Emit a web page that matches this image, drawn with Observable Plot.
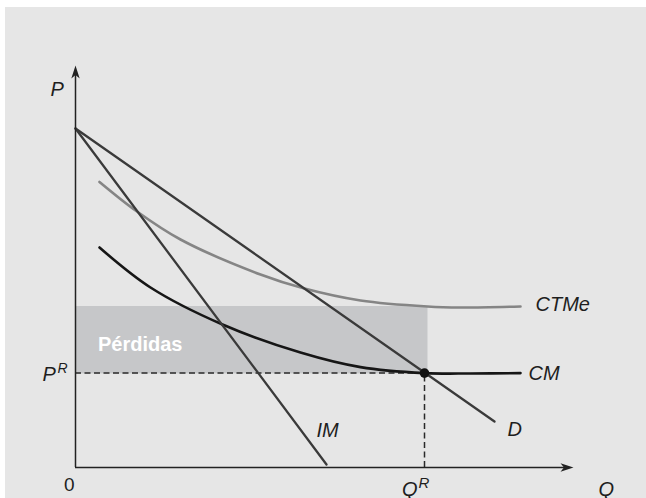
<!DOCTYPE html>
<html>
<head>
<meta charset="utf-8">
<script src="https://cdn.jsdelivr.net/npm/d3@7"></script>
<script src="https://cdn.jsdelivr.net/npm/@observablehq/plot@0.6"></script>
<style>
  html, body { margin: 0; padding: 0; background: #ffffff; }
  #chart { position: absolute; left: 5px; top: 7px; }
  #chart svg { display: block; background: #e6e6e6; }
</style>
</head>
<body>
<div id="chart"></div>
<script>
// ---- data (economic units: Q 0..100, P 0..100) ----
const demandQ = [0, 83.8];
const demandP = [84.75, 11.5];
const imQ = [0, 50.2];
const imP = [84.75, 0.75];
const cmQ = [4.8, 15, 29.4, 45, 57, 69.8, 79, 89];
const cmP = [55, 45, 35.75, 28.75, 25.1, 23.6, 23.5, 23.6];
const ctmeQ = [4.8, 12.3, 21, 37, 45.6, 57, 70.4, 77, 89];
const ctmeP = [71.4, 64, 57, 48.25, 44.8, 41.75, 40.25, 40, 40.25];
const QR = 69.8;
const PR = 23.6;
const lossQ = [0, 70.5];
const lossP = [23.4, 40.25];
const curveNames = ["D", "IM", "CM", "CTMe"];
const axisNames = ["P", "Q", "0"];
const lossLabel = "Pérdidas";
const eqLetters = ["P", "Q"];
const supLetter = "R";

const toPts = (qs, ps) => qs.map((q, i) => ({q, p: ps[i]}));
const D = toPts(demandQ, demandP);
const IM = toPts(imQ, imP);
const CM = toPts(cmQ, cmP);
const CTMe = toPts(ctmeQ, ctmeP);

const font = "'Liberation Sans', Arial, Helvetica, sans-serif";

// filled barbed arrowheads
const arrowUp = {draw(c) { c.moveTo(0, -2); c.lineTo(4.2, 11); c.lineTo(0, 7.5); c.lineTo(-4.2, 11); c.closePath(); }};
const arrowRight = {draw(c) { c.moveTo(2, 0); c.lineTo(-11, 4.2); c.lineTo(-7.5, 0); c.lineTo(-11, -4.2); c.closePath(); }};

const italic = {fontFamily: font, fontSize: 20, fontStyle: "italic", fill: "#1e1e1e", textAnchor: "start", lineAnchor: "bottom"};

const plot = Plot.plot({
  width: 641,
  height: 491,
  marginLeft: 70,
  marginRight: 71,
  marginTop: 60,
  marginBottom: 31,
  x: {domain: [0, 100], axis: null},
  y: {domain: [0, 100], axis: null},
  style: {fontFamily: font, background: "#e6e6e6", overflow: "visible"},
  marks: [
    // loss rectangle
    Plot.rect([{}], {x1: () => lossQ[0], x2: () => lossQ[1], y1: () => lossP[0], y2: () => lossP[1], fill: "#c6c7c9"}),
    // dashed guides
    Plot.ruleY([PR], {x1: 0, x2: QR, stroke: "#2a2a2a", strokeWidth: 1.5, strokeDasharray: "6,3.5"}),
    Plot.ruleX([QR], {y1: 0, y2: PR, stroke: "#2a2a2a", strokeWidth: 1.5, strokeDasharray: "6,3.5"}),
    // curves
    Plot.line(CTMe, {x: "q", y: "p", curve: "catmull-rom", stroke: "#858585", strokeWidth: 2.6}),
    Plot.line(CM, {x: "q", y: "p", curve: "catmull-rom", stroke: "#161616", strokeWidth: 2.6}),
    Plot.line(D, {x: "q", y: "p", stroke: "#3a3a3a", strokeWidth: 2.3}),
    Plot.line(IM, {x: "q", y: "p", stroke: "#3a3a3a", strokeWidth: 2.3}),
    // axes
    Plot.ruleX([0], {y1: 0, y2: 99, stroke: "#222", strokeWidth: 1.5}),
    Plot.ruleY([0], {x1: 0, x2: 98, stroke: "#222", strokeWidth: 1.5}),
    Plot.dot([{q: 0, p: 100}], {x: "q", y: "p", symbol: arrowUp, r: 4, fill: "#222", stroke: "none"}),
    Plot.dot([{q: 99.2, p: 0}], {x: "q", y: "p", symbol: arrowRight, r: 4, fill: "#222", stroke: "none"}),
    // equilibrium point
    Plot.dot([{q: QR, p: PR}], {x: "q", y: "p", r: 4.8, fill: "#111", stroke: "none"}),
    // curve labels
    Plot.text([CTMe[CTMe.length - 1]], {x: "q", y: "p", text: () => curveNames[3], dx: 15, dy: 4, ...italic}),
    Plot.text([CM[CM.length - 1]], {x: "q", y: "p", text: () => curveNames[2], dx: 8, dy: 7, ...italic}),
    Plot.text([D[D.length - 1]], {x: "q", y: "p", text: () => curveNames[0], dx: 13, dy: 14, ...italic}),
    Plot.text([IM[IM.length - 1]], {x: "q", y: "p", text: () => curveNames[1], dx: -10, dy: -28, ...italic}),
    // axis labels
    Plot.text([{q: 0, p: 100}], {x: "q", y: "p", text: () => axisNames[0], dx: -25, dy: 28, ...italic}),
    Plot.text([{q: 100, p: 0}], {x: "q", y: "p", text: () => axisNames[1], dx: 23, dy: 28, ...italic}),
    Plot.text([{q: 0, p: 0}], {x: "q", y: "p", text: () => axisNames[2], dx: -1, dy: 23, fontFamily: font, fontSize: 19, fill: "#1e1e1e", textAnchor: "end", lineAnchor: "bottom"}),
    // equilibrium labels
    Plot.text([{q: 0, p: PR}], {x: "q", y: "p", text: () => eqLetters[0], dx: -33, dy: 8, ...italic}),
    Plot.text([{q: 0, p: PR}], {x: "q", y: "p", text: () => supLetter, dx: -18, dy: 0, ...italic, fontSize: 14}),
    Plot.text([{q: QR, p: 0}], {x: "q", y: "p", text: () => eqLetters[1], dx: -22.5, dy: 28, ...italic}),
    Plot.text([{q: QR, p: 0}], {x: "q", y: "p", text: () => supLetter, dx: -6, dy: 20, ...italic, fontSize: 15}),
    // loss label
    Plot.text([{q: 0, p: PR}], {x: "q", y: "p", text: () => lossLabel, dx: 22.5, dy: -22, fontFamily: font, fontSize: 20, fontWeight: "bold", fill: "#ffffff", textAnchor: "start", lineAnchor: "bottom"})
  ]
});
document.getElementById("chart").appendChild(plot);
</script>
</body>
</html>
